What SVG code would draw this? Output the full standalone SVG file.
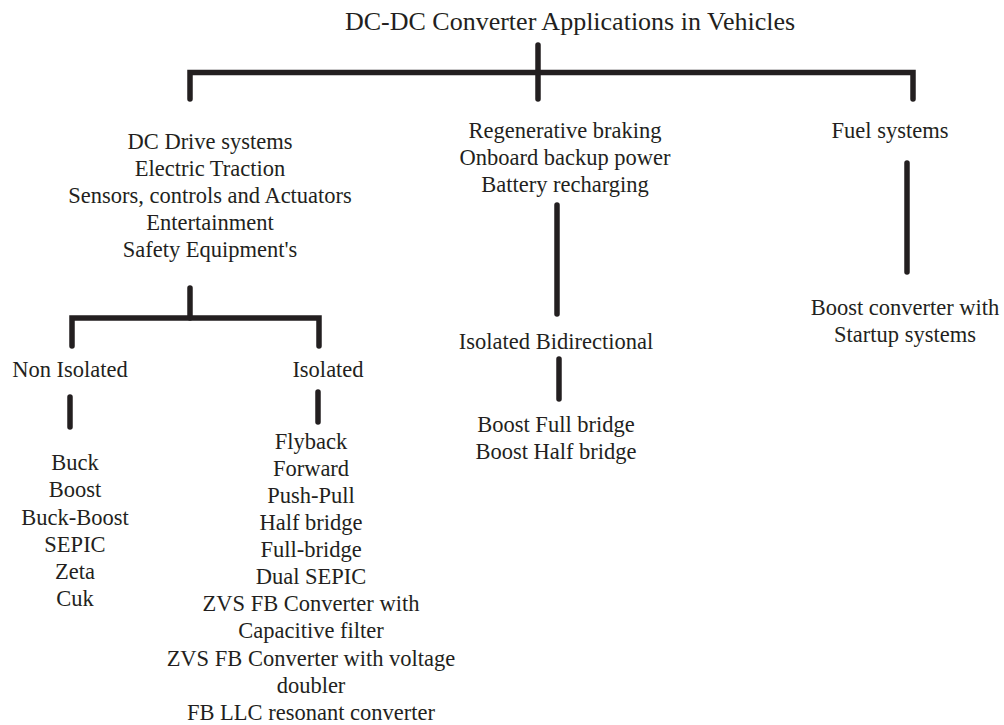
<svg xmlns="http://www.w3.org/2000/svg" width="1004" height="725" viewBox="0 0 1004 725">
<style>
.t{font-family:"Liberation Serif","Times New Roman",serif;font-size:22.5px;fill:#231f20;text-anchor:middle}
.title{font-size:26px}
.c{fill:none;stroke:#231f20;stroke-width:5.5;stroke-linecap:round;stroke-linejoin:miter}
</style>
<rect width="1004" height="725" fill="#ffffff"/>
<g id="connectors">
<path class="c" d="M538,45 V99"/>
<path class="c" d="M190,99 V72.5 H913 V99"/>
<path class="c" d="M190,288 V318"/>
<path class="c" d="M72,346 V318 H319 V346"/>
<path class="c" d="M70,397 V427"/>
<path class="c" d="M318,392 V422"/>
<path class="c" d="M557,205 V314"/>
<path class="c" d="M559,359 V399"/>
<path class="c" d="M907,163 V272"/>
</g>
<g id="root"><text class="t title" x="570" y="30">DC-DC Converter Applications in Vehicles</text></g>
<g id="drive">
<text class="t" x="210" y="149">DC Drive systems</text>
<text class="t" x="210" y="176">Electric Traction</text>
<text class="t" x="210" y="203">Sensors, controls and Actuators</text>
<text class="t" x="210" y="230">Entertainment</text>
<text class="t" x="210" y="257">Safety Equipment's</text>
</g>
<g id="regen">
<text class="t" x="565" y="138">Regenerative braking</text>
<text class="t" x="565" y="165">Onboard backup power</text>
<text class="t" x="565" y="192">Battery recharging</text>
</g>
<g id="fuel"><text class="t" x="890" y="138">Fuel systems</text></g>
<g id="boostconv">
<text class="t" x="905" y="315">Boost converter with</text>
<text class="t" x="905" y="342">Startup systems</text>
</g>
<g id="isobidir"><text class="t" x="556" y="349">Isolated Bidirectional</text></g>
<g id="boostbridge">
<text class="t" x="556" y="432">Boost Full bridge</text>
<text class="t" x="556" y="459">Boost Half bridge</text>
</g>
<g id="nonisolated"><text class="t" x="70" y="377">Non Isolated</text></g>
<g id="isolated"><text class="t" x="328" y="377">Isolated</text></g>
<g id="nonisolist">
<text class="t" x="75" y="470">Buck</text>
<text class="t" x="75" y="497">Boost</text>
<text class="t" x="75" y="525">Buck-Boost</text>
<text class="t" x="75" y="552">SEPIC</text>
<text class="t" x="75" y="579">Zeta</text>
<text class="t" x="75" y="606">Cuk</text>
</g>
<g id="isolist">
<text class="t" x="311" y="449">Flyback</text>
<text class="t" x="311" y="476">Forward</text>
<text class="t" x="311" y="503">Push-Pull</text>
<text class="t" x="311" y="530">Half bridge</text>
<text class="t" x="311" y="557">Full-bridge</text>
<text class="t" x="311" y="584">Dual SEPIC</text>
<text class="t" x="311" y="611">ZVS FB Converter with</text>
<text class="t" x="311" y="638">Capacitive filter</text>
<text class="t" x="311" y="666">ZVS FB Converter with voltage</text>
<text class="t" x="311" y="693">doubler</text>
<text class="t" x="311" y="720">FB LLC resonant converter</text>
</g>
</svg>
